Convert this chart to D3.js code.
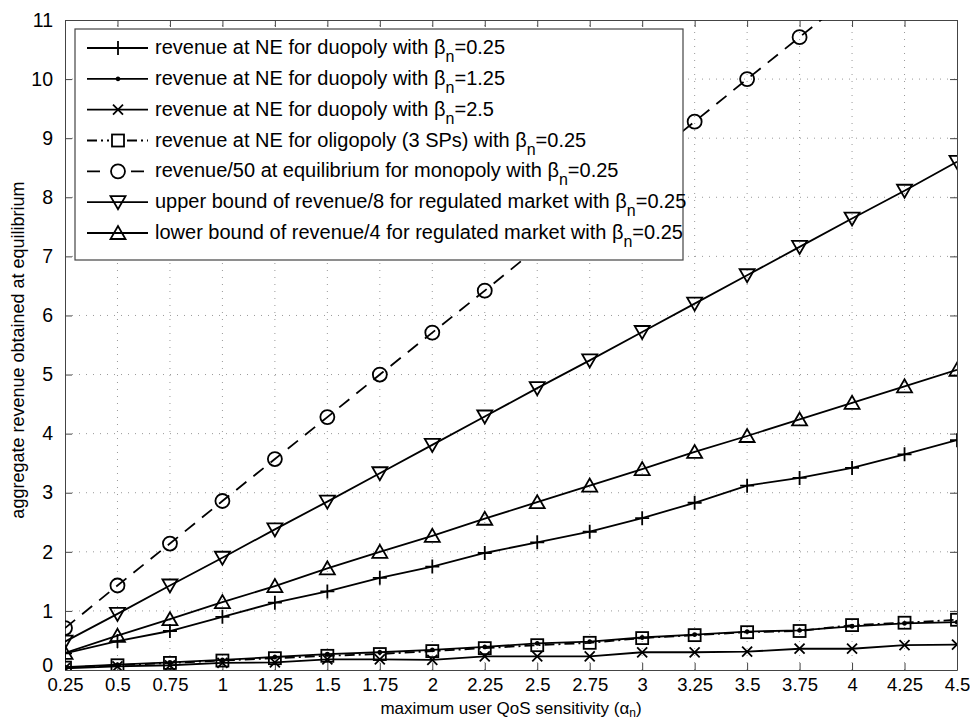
<!DOCTYPE html>
<html>
<head>
<meta charset="UTF-8">
<title>Aggregate revenue at equilibrium</title>
<style>
  body { margin: 0; background: #fff; }
  svg text { font-family: "Liberation Sans", Arial, sans-serif; fill: #000; }
</style>
</head>
<body>
<script src="https://d3js.org/d3.v7.min.js"></script>
<script>
// alpha_n values on the x axis
var alpha = [0.25, 0.5, 0.75, 1, 1.25, 1.5, 1.75, 2, 2.25, 2.5, 2.75, 3, 3.25, 3.5, 3.75, 4, 4.25, 4.5];
var yTicks = [0, 1, 2, 3, 4, 5, 6, 7, 8, 9, 10, 11];

// series
var duoB025   = [0.28, 0.49, 0.66, 0.90, 1.14, 1.33, 1.56, 1.75, 1.98, 2.16, 2.34, 2.57, 2.83, 3.12, 3.25, 3.42, 3.65, 3.89];
var duoB125   = [0.05, 0.09, 0.13, 0.17, 0.22, 0.27, 0.30, 0.34, 0.39, 0.45, 0.48, 0.55, 0.60, 0.65, 0.67, 0.74, 0.79, 0.81];
var duoB25    = [0.03, 0.06, 0.08, 0.12, 0.13, 0.18, 0.18, 0.17, 0.23, 0.23, 0.23, 0.30, 0.30, 0.31, 0.36, 0.36, 0.42, 0.43];
var oligo     = [0.04, 0.08, 0.12, 0.16, 0.20, 0.24, 0.27, 0.32, 0.37, 0.42, 0.46, 0.54, 0.59, 0.64, 0.66, 0.76, 0.80, 0.85];
var monopoly  = [0.71, 1.43, 2.14, 2.86, 3.57, 4.28, 5.00, 5.71, 6.42, 7.14, 7.85, 8.57, 9.28, 10.0, 10.71, 11.42, 12.13, 12.85];
var upperReg  = [0.48, 0.95, 1.43, 1.90, 2.38, 2.85, 3.33, 3.81, 4.29, 4.77, 5.24, 5.72, 6.20, 6.68, 7.16, 7.64, 8.11, 8.60];
var lowerReg  = [0.29, 0.58, 0.86, 1.15, 1.42, 1.72, 2.00, 2.27, 2.56, 2.84, 3.12, 3.40, 3.69, 3.96, 4.24, 4.52, 4.80, 5.08];

var series = [
  { name: "revenue at NE for duopoly with β", sub: "n", tail: "=0.25", values: duoB025, marker: "plus", dash: null },
  { name: "revenue at NE for duopoly with β", sub: "n", tail: "=1.25", values: duoB125, marker: "dot", dash: null },
  { name: "revenue at NE for duopoly with β", sub: "n", tail: "=2.5", values: duoB25, marker: "cross", dash: null },
  { name: "revenue at NE for oligopoly (3 SPs) with β", sub: "n", tail: "=0.25", values: oligo, marker: "square", dash: "10,4,2,4" },
  { name: "revenue/50 at equilibrium for monopoly with β", sub: "n", tail: "=0.25", values: monopoly, marker: "circle", dash: "13,9" },
  { name: "upper bound of revenue/8 for regulated market with β", sub: "n", tail: "=0.25", values: upperReg, marker: "down", dash: null },
  { name: "lower bound of revenue/4 for regulated market with β", sub: "n", tail: "=0.25", values: lowerReg, marker: "up", dash: null }
];

var W = 970, H = 720;
var svg = d3.select("body").append("svg").attr("width", W).attr("height", H);

var x = d3.scaleLinear().domain([0.25, 4.5]).range([65, 957]);
var y = d3.scaleLinear().domain([0, 11]).range([670, 20]);

svg.append("defs").append("clipPath").attr("id", "plotclip")
  .append("rect").attr("x", 65).attr("y", 20).attr("width", 892).attr("height", 650);

// grid
var grid = svg.append("g").attr("stroke", "#999").attr("stroke-width", 1).attr("stroke-dasharray", "1,6");
grid.selectAll(".gx").data(alpha.slice(1, -1)).enter().append("line")
  .attr("x1", d => x(d)).attr("x2", d => x(d)).attr("y1", y(0)).attr("y2", y(11));
grid.selectAll(".gy").data(yTicks.slice(1, -1)).enter().append("line")
  .attr("x1", x(0.25)).attr("x2", x(4.5)).attr("y1", d => y(d)).attr("y2", d => y(d));

// axes, matlab style with inward ticks on all sides
var tickLen = -7;
svg.append("g").attr("transform", "translate(0," + y(0) + ")")
  .call(d3.axisBottom(x).tickValues(alpha).tickSizeInner(tickLen).tickSizeOuter(0).tickPadding(8).tickFormat(d3.format("")))
  .call(g => g.selectAll("text").attr("font-size", 18.5));
svg.append("g").attr("transform", "translate(0," + y(11) + ")")
  .call(d3.axisTop(x).tickValues(alpha).tickSizeInner(tickLen).tickSizeOuter(0).tickFormat(""));
svg.append("g").attr("transform", "translate(" + x(0.25) + ",0)")
  .call(d3.axisLeft(y).tickValues(yTicks).tickSizeInner(tickLen).tickSizeOuter(0).tickPadding(12))
  .call(g => g.selectAll("text").attr("font-size", 19.5))
  .call(g => g.selectAll("text").filter(d => d === 0).attr("dy", "0.1em"));
svg.append("g").attr("transform", "translate(" + x(4.5) + ",0)")
  .call(d3.axisRight(y).tickValues(yTicks).tickSizeInner(tickLen).tickSizeOuter(0).tickFormat(""));
svg.selectAll(".domain").attr("stroke", "#444");
svg.selectAll(".tick line").attr("stroke", "#444");

// markers
function drawMarker(g, type) {
  if (type === "plus") {
    g.append("path").attr("d", "M-7,0H7M0,-7V7").attr("fill", "none");
  } else if (type === "dot") {
    g.append("circle").attr("r", 1.5).attr("fill", "#000");
  } else if (type === "cross") {
    g.append("path").attr("d", "M-5,-5L5,5M-5,5L5,-5").attr("fill", "none");
  } else if (type === "square") {
    g.append("rect").attr("x", -6).attr("y", -6).attr("width", 12).attr("height", 12).attr("fill", "none");
  } else if (type === "circle") {
    g.append("circle").attr("r", 7).attr("fill", "none");
  } else if (type === "down") {
    g.append("path").attr("d", "M-7.5,-6L7.5,-6L0,7Z").attr("fill", "none");
  } else if (type === "up") {
    g.append("path").attr("d", "M-7.5,6L7.5,6L0,-7Z").attr("fill", "none");
  }
}

var line = d3.line().x((d, i) => x(alpha[i])).y(d => y(d));
var plot = svg.append("g").attr("clip-path", "url(#plotclip)");

series.forEach(function(s) {
  plot.append("path").datum(s.values)
    .attr("d", line)
    .attr("fill", "none").attr("stroke", "#000").attr("stroke-width", 1.8)
    .attr("stroke-dasharray", s.dash);
  plot.selectAll(null).data(s.values).enter().append("g")
    .attr("transform", (d, i) => "translate(" + x(alpha[i]) + "," + y(d) + ")")
    .attr("stroke", "#000").attr("stroke-width", 1.8)
    .each(function() { drawMarker(d3.select(this), s.marker); });
});

// legend
var leg = svg.append("g");
leg.append("rect").attr("x", 75).attr("y", 29).attr("width", 608).attr("height", 231)
  .attr("fill", "#fff").attr("stroke", "#444").attr("stroke-width", 1.2);

var rowY = d3.scaleLinear().domain([0, 6]).range([48, 233]);
series.forEach(function(s, i) {
  var ry = rowY(i);
  leg.append("line").attr("x1", 87).attr("x2", 148).attr("y1", ry).attr("y2", ry)
    .attr("stroke", "#000").attr("stroke-width", 1.8).attr("stroke-dasharray", s.dash);
  var m = leg.append("g").attr("transform", "translate(118," + ry + ")")
    .attr("stroke", "#000").attr("stroke-width", 1.8);
  if (s.dash) m.append("rect").attr("x", -9).attr("y", -9).attr("width", 18).attr("height", 18).attr("fill", "#fff").attr("stroke", "none");
  drawMarker(m, s.marker);
  var t = leg.append("text").attr("x", 155).attr("y", ry + 6).attr("font-size", 20);
  t.append("tspan").text(s.name);
  t.append("tspan").attr("dy", 8).attr("font-size", 16).text(s.sub);
  t.append("tspan").attr("dy", -8).text(s.tail);
});

// axis labels
var xl = svg.append("text").attr("x", 511).attr("y", 714).attr("text-anchor", "middle").attr("font-size", 17);
xl.append("tspan").text("maximum user QoS sensitivity (α");
xl.append("tspan").attr("dy", 3).attr("font-size", 12).text("n");
xl.append("tspan").attr("dy", -3).text(")");

svg.append("text").attr("transform", "translate(24,350) rotate(-90)")
  .attr("text-anchor", "middle").attr("font-size", 18)
  .text("aggregate revenue obtained at equilibrium");
</script>
</body>
</html>
